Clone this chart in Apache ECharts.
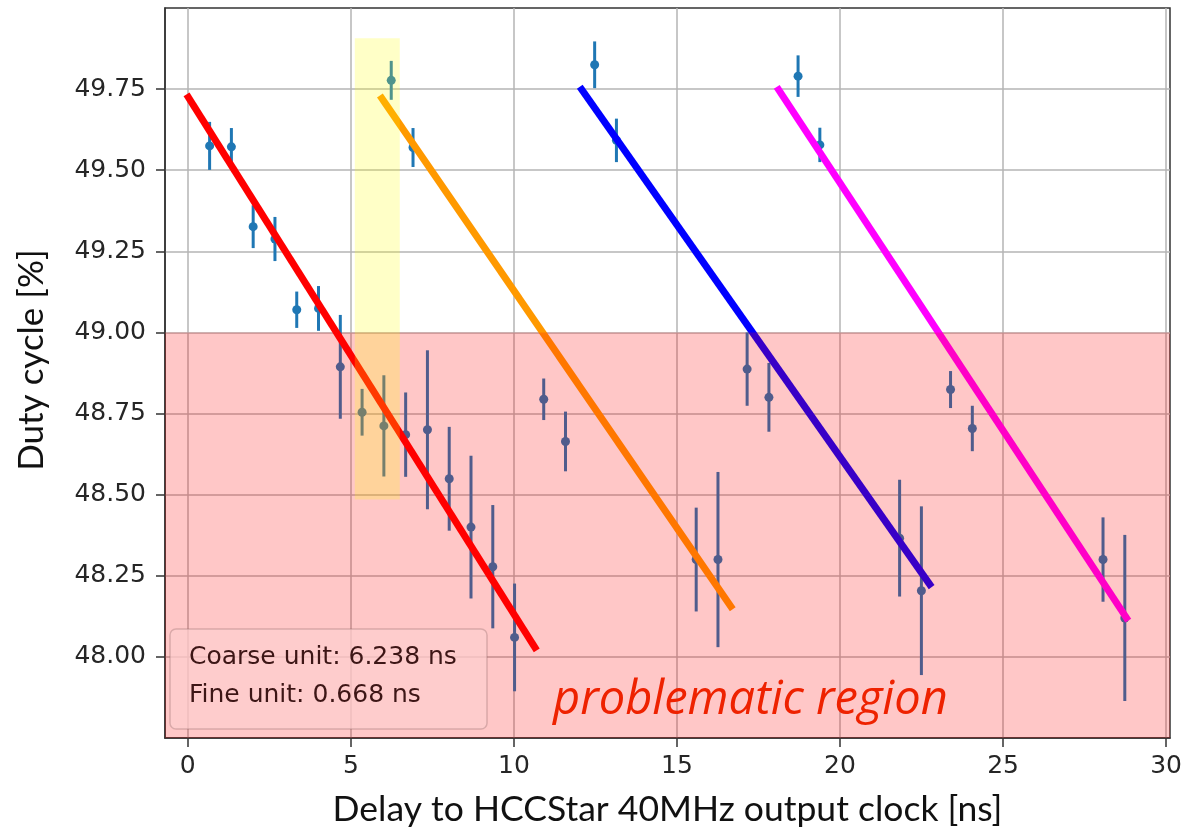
<!DOCTYPE html>
<html>
<head>
<meta charset="utf-8">
<script src="https://cdn.jsdelivr.net/npm/echarts@6/dist/echarts.min.js"></script>
<style>
  html, body { margin: 0; padding: 0; background: #fff; }
  #duty-chart { width: 1194px; height: 831px; }
</style>
</head>
<body>
<div id="duty-chart"></div>
<script>
// measured points: delay [ns], duty cycle [%], error [%]
var delayNs = [
  0.668, 1.336, 2.004, 2.672, 3.340, 4.008, 4.676, 5.344, 6.012, 6.680, 7.348, 8.016, 8.684, 9.352, 10.020,
  6.238, 6.906, 10.914, 11.582, 15.590, 16.258,
  12.476, 13.144, 17.152, 17.820, 21.828, 22.496,
  18.714, 19.382, 23.390, 24.058, 28.066, 28.734
];
var dutyCycle = [
  49.575, 49.572, 49.326, 49.288, 49.070, 49.074, 48.894, 48.754, 48.712, 48.685, 48.700, 48.549, 48.400, 48.278, 48.060,
  49.777, 49.570, 48.794, 48.664, 48.300, 48.300,
  49.825, 49.592, 48.887, 48.800, 48.366, 48.204,
  49.790, 49.578, 48.824, 48.704, 48.300, 48.120
];
var dutyErr = [
  0.074, 0.058, 0.066, 0.068, 0.056, 0.069, 0.160, 0.072, 0.156, 0.130, 0.245, 0.160, 0.220, 0.190, 0.166,
  0.060, 0.060, 0.064, 0.092, 0.160, 0.270,
  0.072, 0.067, 0.113, 0.106, 0.180, 0.260,
  0.064, 0.053, 0.057, 0.070, 0.130, 0.256
];

// hand-drawn fit lines (start, end)
var redFit = [[-0.04, 49.734], [10.70, 48.02]];
var orangeFit = [[5.89, 49.73], [16.71, 48.147]];
var blueFit = [[12.02, 49.757], [22.81, 48.215]];
var magentaFit = [[18.06, 49.757], [28.84, 48.112]];

// shaded regions: [xFrom, xTo, yFrom, yTo]
var problemRegion = [-0.7, 30.12, 47.75, 49.0];
var highlightRegion = [5.12, 6.50, 48.485, 49.907];

var xTicks = [0, 5, 10, 15, 20, 25, 30];
var yTicks = [48.0, 48.25, 48.5, 48.75, 49.0, 49.25, 49.5, 49.75];

var infoLines = ["Coarse unit: 6.238 ns", "Fine unit: 0.668 ns"];

var points = delayNs.map(function (x, i) { return [x, dutyCycle[i], dutyErr[i]]; });

function errorBarItem(params, api) {
  var x = api.value(0), y = api.value(1), e = api.value(2);
  var top = api.coord([x, y + e]);
  var bot = api.coord([x, y - e]);
  var c = api.coord([x, y]);
  return {
    type: "group",
    children: [
      { type: "line", shape: { x1: top[0], y1: top[1], x2: bot[0], y2: bot[1] },
        style: { stroke: "#1f77b4", lineWidth: 3 } },
      { type: "circle", shape: { cx: c[0], cy: c[1], r: 4.5 }, style: { fill: "#1f77b4" } }
    ]
  };
}

function regionItem(color) {
  return function (params, api) {
    var p1 = api.coord([api.value(0), api.value(3)]);
    var p2 = api.coord([api.value(1), api.value(2)]);
    return {
      type: "rect",
      shape: { x: p1[0], y: p1[1], width: p2[0] - p1[0], height: p2[1] - p1[1] },
      style: { fill: color }
    };
  };
}

function fitLine(data, color) {
  return {
    type: "line", data: data, symbol: "none", z: 3, silent: true,
    lineStyle: { color: color, width: 7, cap: "butt" }
  };
}

var dom = document.getElementById("duty-chart");
var myChart = echarts.init(dom, null, { renderer: "canvas" });

var option = {
  animation: false,
  backgroundColor: "#ffffff",
  grid: {
    left: 165, right: 24, top: 8, bottom: 93,
    outerBoundsMode: "none",
    containLabel: false,
    show: true, borderColor: "#333", borderWidth: 1.5, backgroundColor: "#fff"
  },
  xAxis: {
    type: "value",
    min: -0.7,
    max: 30.12,
    name: "Delay to HCCStar 40MHz output clock [ns]",
    nameLocation: "middle",
    nameGap: 54,
    nameTextStyle: { fontFamily: "Lato", fontSize: 35.5, color: "#111" },
    axisLine: { show: true, onZero: false, lineStyle: { color: "#333", width: 1.5 } },
    axisTick: { show: true, length: 9, customValues: xTicks, lineStyle: { color: "#333", width: 1.5 } },
    axisLabel: {
      customValues: xTicks, margin: 16,
      fontFamily: "DejaVu Sans", fontSize: 25, color: "#262626"
    },
    splitLine: { show: true, lineStyle: { color: "#b5b5b5", width: 1.5 } }
  },
  yAxis: {
    type: "value",
    min: 47.75,
    max: 50.0,
    name: "Duty cycle [%]",
    nameLocation: "middle",
    nameGap: 116,
    nameTextStyle: { fontFamily: "Lato", fontSize: 35, color: "#111", padding: [0, 0, 0, 26] },
    axisLine: { show: true, onZero: false, lineStyle: { color: "#333", width: 1.5 } },
    axisTick: { show: true, length: 9, customValues: yTicks, lineStyle: { color: "#333", width: 1.5 } },
    axisLabel: {
      customValues: yTicks, margin: 19,
      fontFamily: "DejaVu Sans", fontSize: 25, color: "#262626",
      formatter: function (v) { return v.toFixed(2); }
    },
    splitLine: { show: true, lineStyle: { color: "#b5b5b5", width: 1.5 } }
  },
  series: [
    { type: "custom", name: "measured", renderItem: errorBarItem, data: points, z: 2, silent: true },
    fitLine(redFit, "#ff0000"),
    fitLine(orangeFit, "#ff9900"),
    fitLine(blueFit, "#0000ff"),
    fitLine(magentaFit, "#ff00ff"),
    { type: "custom", renderItem: regionItem("rgba(255,0,0,0.22)"), data: [problemRegion], z: 4, silent: true },
    { type: "custom", renderItem: regionItem("rgba(255,255,0,0.22)"), data: [highlightRegion], z: 5, silent: true }
  ],
  graphic: [
    {
      type: "rect", z: 20, silent: true,
      shape: { x: 170, y: 629, width: 317, height: 100, r: 6 },
      style: { fill: "rgba(253,205,205,0.75)", stroke: "rgba(150,110,110,0.35)", lineWidth: 1.5 }
    },
    {
      type: "text", z: 21, left: 189, top: 645, silent: true,
      style: { text: infoLines[0], font: "25px 'DejaVu Sans'", fill: "#3d1616" }
    },
    {
      type: "text", z: 21, left: 189, top: 683, silent: true,
      style: { text: infoLines[1], font: "25px 'DejaVu Sans'", fill: "#3d1616" }
    },
    {
      type: "text", z: 21, left: 553, top: 677, silent: true,
      style: { text: "problematic region", font: "italic 47px 'Open Sans'", fill: "#ee2200" }
    }
  ]
};

option && "object" == typeof option && myChart.setOption(option, true);
</script>
</body>
</html>
